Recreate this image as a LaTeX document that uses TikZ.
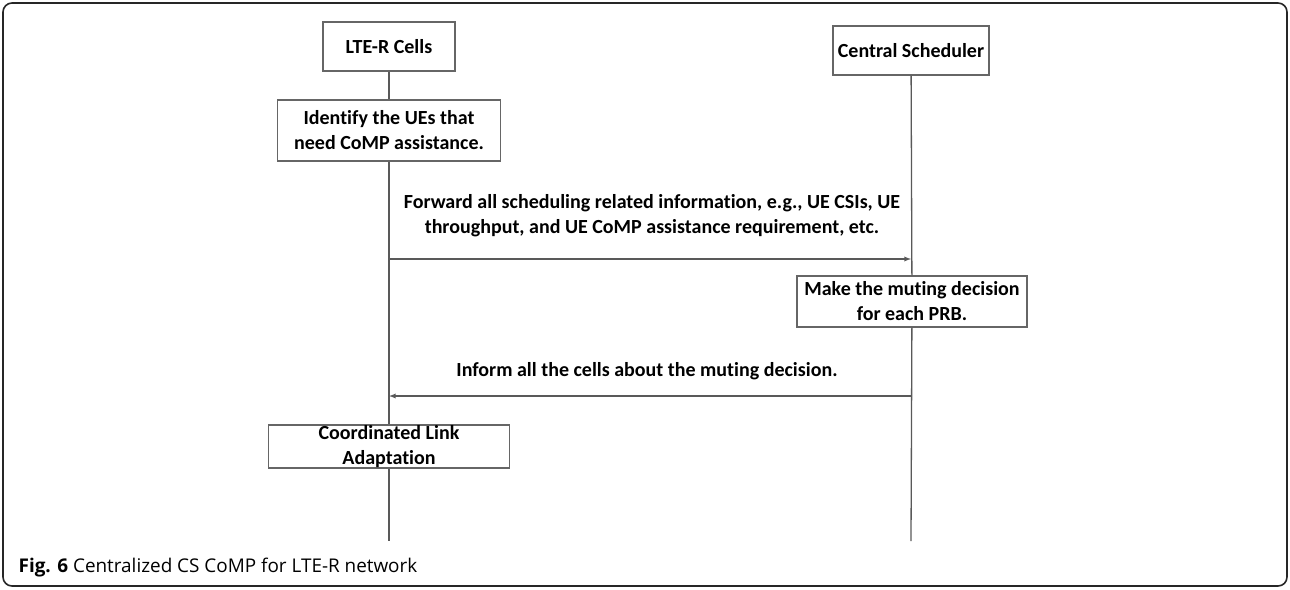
\documentclass[tikz,border=0pt]{standalone}
\usepackage{fontspec}
\setmainfont{Carlito}[Ligatures=NoCommon]
\newfontfamily\capfont{Open Sans}
\begin{document}
\begin{tikzpicture}[>=latex, x=1pt, y=-1pt, line width=1.3pt,
    font=\bfseries\fontsize{20}{25}\selectfont]
    \tikzset{box/.style={draw=black!60, fill=white, align=center, inner sep=0pt},
        life/.style={draw=black!65}}
    \useasboundingbox (0,0) rectangle (1290,589);
    %\draw [help lines] (0,0) grid[step=50] (1290,589);
    \draw[rounded corners=9pt, line width=1.6pt, black!85] (3,3) rectangle (1287,586);
    % the two sides
    \node[box, minimum width=132, minimum height=49] (cells) at (389,46.5) {LTE-R Cells};
    \node[box, minimum width=156, minimum height=49] (sched) at (911,50.5) {Central Scheduler};
    \node[box, minimum width=223, minimum height=61] (ident) at (389,130.5) {Identify the UEs that\\need CoMP assistance.};
    \node[box, minimum width=230, minimum height=51] (mute) at (912,301.5) {Make the muting decision\\for each PRB.};
    \node[box, minimum width=241, minimum height=43] (link) at (389,446.5) {Coordinated Link\\Adaptation};
    \coordinate (cellsend) at (389,541);
    \coordinate (schedend) at (911,541);
    \draw[life] (cells) -- (ident);
    \draw[life] (ident) -- (link);
    \draw[life] (link) -- (cellsend);
    \draw[life] (sched) -- (mute);
    \draw[life] (mute) -- (schedend);
    % messages
    \coordinate (fwdl) at (389,259);
    \coordinate (fwdr) at (911,259);
    \coordinate (infl) at (389,396);
    \coordinate (infr) at (911,396);
    \draw[life, ->] (fwdl) -- (fwdr);
    \draw[life, ->] (infr) -- (infl);
    \node[align=center, font=\bfseries\fontsize{20}{25}\selectfont] (fwd) at (652,215.5)
        {Forward all scheduling related information, e.g., UE CSIs, UE\\throughput, and UE CoMP assistance requirement, etc.};
    \node (inf) at (647,371) {Inform all the cells about the muting decision.};
    % caption
    \node[anchor=west, inner sep=0pt, font=\capfont\fontsize{18.9}{22}\selectfont] (cap) at (18,568)
        {\textbf{Fig. 6} Centralized CS CoMP for LTE-R network};
\end{tikzpicture}
\end{document}
